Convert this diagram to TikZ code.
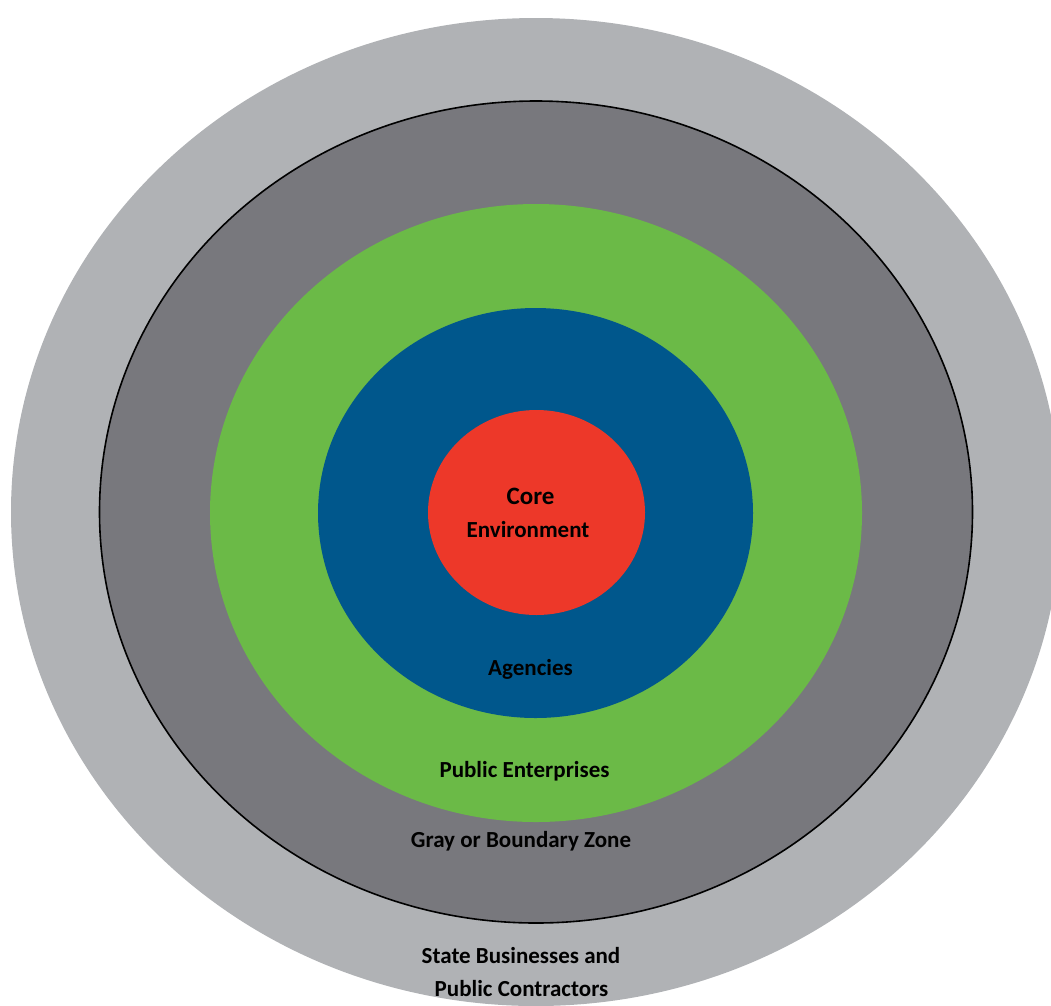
\documentclass[tikz,border=0pt]{standalone}
\usepackage{fontspec}
\setmainfont{Carlito}
\usepackage{tikz}
\usetikzlibrary{positioning}
\tikzset{zone/.style = {inner sep = 0, anchor = base, font = \bfseries\fontsize{23}{28}\selectfont}}
\definecolor{mpale}{rgb}{0.69, 0.70, 0.71}
\definecolor{mgray}{rgb}{0.47, 0.47, 0.49}
\definecolor{mgreen}{rgb}{0.42, 0.73, 0.28}
\definecolor{mblue}{rgb}{0.0, 0.34, 0.55}
\definecolor{mred}{rgb}{0.93, 0.22, 0.16}

\begin{document}
\begin{tikzpicture}[x=1pt, y=-1pt]
    \useasboundingbox (0, 0) rectangle (1051, 1005);
    \clip (0, 0) rectangle (1051, 1005);
    \coordinate (mid) at (536, 512);

    \fill [mpale] (mid) ellipse (525 and 494);
    \filldraw [mgray, draw = black, line width = 1.6] (mid) ellipse (436.5 and 411);
    \fill [mgreen] (536, 513) ellipse (326 and 309);
    \fill [mblue] (535.5, 513) ellipse (217.5 and 205);
    \fill [mred] (536.5, 512.5) ellipse (108.5 and 102.5);

    \node [zone, font = \bfseries\fontsize{25}{30}\selectfont] (core) at (530.5, 504) {Core};
    \node [zone] (env) at (528, 537) {Environment};
    \node [zone] (agencies) at (530.5, 675) {Agencies};
    \node [zone] (enterprises) at (524.5, 777) {Public Enterprises};
    \node [zone] (boundary) at (521, 847) {Gray or Boundary Zone};
    \node [zone] (state) at (521, 963) {State Businesses and};
    \node [zone] (contractors) at (521.5, 996) {Public Contractors};
  \end{tikzpicture}
\end{document}
